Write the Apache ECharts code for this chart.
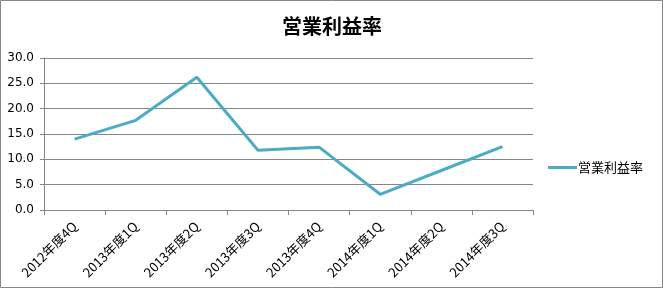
<!DOCTYPE html>
<html><head><meta charset="utf-8">
<script src="https://cdn.jsdelivr.net/npm/echarts@6/dist/echarts.min.js"></script>
<style>html,body{margin:0;padding:0;background:#fff}#c{width:664px;height:289px}</style>
</head><body><div id="c"></div>
<script>
const categories = ['2012年度4Q','2013年度1Q','2013年度2Q','2013年度3Q','2013年度4Q','2014年度1Q','2014年度2Q','2014年度3Q'];
const seriesName = '営業利益率';
const values = [14.0, 17.7, 26.2, 11.8, 12.4, 3.1, 7.8, 12.5];
const yTicks = {min: 0, max: 30, interval: 5};

const chart = echarts.init(document.getElementById('c'), null, {renderer: 'canvas'});
const font = '"Noto Sans CJK JP", sans-serif';
chart.setOption({
  animation: false,
  backgroundColor: '#fff',
  graphic: [{type: 'rect', shape: {x: 0.5, y: 0.5, width: 662, height: 287}, style: {fill: 'none', stroke: '#868686', lineWidth: 1}}],
  title: {text: seriesName, left: 'center', top: 11, textStyle: {fontFamily: font, fontSize: 20, fontWeight: 'bold', color: '#000'}},
  legend: {right: 16, top: 156, icon: 'rect', itemWidth: 29, itemHeight: 3, itemGap: 2,
    textStyle: {fontFamily: font, fontSize: 13, color: '#000', padding: [0,0,0,-4]}, data: [seriesName]},
  grid: {left: 44, right: 131, top: 58, bottom: 79, containLabel: false},
  xAxis: {type: 'category', data: categories, boundaryGap: true,
    axisLine: {lineStyle: {color: '#868686', width: 1}},
    axisTick: {show: true, length: 5, lineStyle: {color: '#868686'}, alignWithLabel: false},
    axisLabel: {rotate: 45, fontFamily: font, fontSize: 13, color: '#000', margin: 14, interval: 0}},
  yAxis: {type: 'value', min: yTicks.min, max: yTicks.max, interval: yTicks.interval,
    axisLine: {show: true, lineStyle: {color: '#868686'}},
    axisTick: {show: true, length: 4, lineStyle: {color: '#868686'}},
    splitLine: {lineStyle: {color: '#868686', width: 1}},
    axisLabel: {formatter: v => v.toFixed(1), fontFamily: '"DejaVu Sans", sans-serif', fontSize: 12, color: '#000', margin: 10}},
  series: [{name: seriesName, type: 'line', data: values, showSymbol: false, symbol: 'none',
    lineStyle: {color: '#4BACC6', width: 3}, itemStyle: {color: '#4BACC6'}}]
});
</script></body></html>
